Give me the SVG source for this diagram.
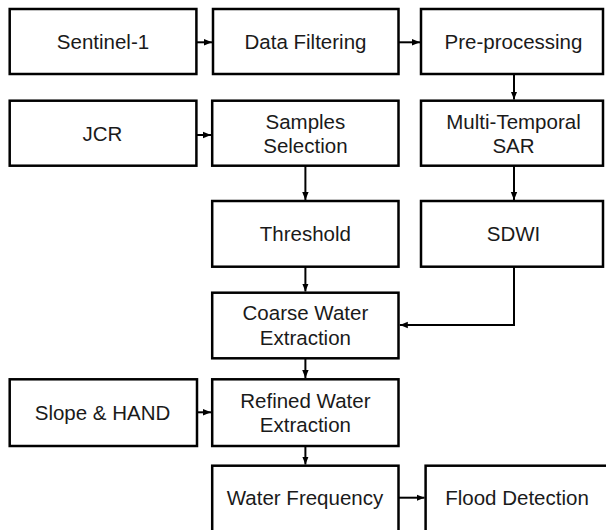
<svg xmlns="http://www.w3.org/2000/svg" width="606" height="530" viewBox="0 0 606 530">
<style>
.box{fill:#fff;stroke:#000;stroke-width:2.5}
.t{font-family:"Liberation Sans",Arial,sans-serif;font-size:20.5px;fill:#1a1a1a;text-anchor:middle}
.c{fill:none;stroke:#000;stroke-width:2}
</style>
<defs>
<marker id="ah" markerUnits="userSpaceOnUse" markerWidth="8" markerHeight="8" viewBox="0 0 8 8" refX="8" refY="4" orient="auto">
<path d="M0,0.8 L8,4 L0,7.2 Z" fill="#000"/>
</marker>
</defs>
<rect width="606" height="530" fill="#fff"/>
<g id="connectors">
<line class="c" x1="196.4" y1="42.3" x2="212" y2="42.3" marker-end="url(#ah)"/>
<line class="c" x1="398.5" y1="42.3" x2="420" y2="42.3" marker-end="url(#ah)"/>
<line class="c" x1="514" y1="74" x2="514" y2="99.5" marker-end="url(#ah)"/>
<line class="c" x1="196.4" y1="135" x2="211" y2="135" marker-end="url(#ah)"/>
<line class="c" x1="305.4" y1="165.7" x2="305.4" y2="200" marker-end="url(#ah)"/>
<line class="c" x1="514" y1="165.7" x2="514" y2="200" marker-end="url(#ah)"/>
<line class="c" x1="305.4" y1="266.7" x2="305.4" y2="291.5" marker-end="url(#ah)"/>
<polyline class="c" points="514,266.7 514,325 399.8,325" marker-end="url(#ah)"/>
<line class="c" x1="305.4" y1="358.3" x2="305.4" y2="378" marker-end="url(#ah)"/>
<line class="c" x1="197" y1="412.3" x2="211" y2="412.3" marker-end="url(#ah)"/>
<line class="c" x1="305.4" y1="446" x2="305.4" y2="464.5" marker-end="url(#ah)"/>
<line class="c" x1="398.5" y1="497.7" x2="424.5" y2="497.7" marker-end="url(#ah)"/>
</g>
<g id="sentinel1"><rect class="box" x="9.7" y="9" width="186.7" height="65"/><text class="t" x="103" y="49">Sentinel-1</text></g>
<g id="dataFiltering"><rect class="box" x="213" y="9" width="185.5" height="65"/><text class="t" x="305.5" y="49">Data Filtering</text></g>
<g id="preprocessing"><rect class="box" x="421" y="9" width="182" height="65"/><text class="t" x="513.5" y="49">Pre-processing</text></g>
<g id="jcr"><rect class="box" x="9.7" y="100.7" width="186.7" height="65"/><text class="t" x="102.5" y="140.5">JCR</text></g>
<g id="samplesSelection"><rect class="box" x="212.2" y="100.7" width="186.3" height="65"/><text class="t" x="305.4" y="128.7">Samples</text><text class="t" x="305.4" y="153.2">Selection</text></g>
<g id="multiTemporalSAR"><rect class="box" x="421" y="100.7" width="182" height="65"/><text class="t" x="513.5" y="128.7">Multi-Temporal</text><text class="t" x="513.5" y="153.2">SAR</text></g>
<g id="threshold"><rect class="box" x="212.2" y="201" width="186.3" height="65.7"/><text class="t" x="305.4" y="241">Threshold</text></g>
<g id="sdwi"><rect class="box" x="421" y="201" width="182" height="65.7"/><text class="t" x="513.5" y="241">SDWI</text></g>
<g id="coarseWater"><rect class="box" x="212.2" y="292.7" width="186.3" height="65.6"/><text class="t" x="305.4" y="320.3">Coarse Water</text><text class="t" x="305.4" y="344.8">Extraction</text></g>
<g id="slopeHand"><rect class="box" x="9.7" y="379.3" width="187.3" height="66.7"/><text class="t" x="102.5" y="419.5">Slope &amp; HAND</text></g>
<g id="refinedWater"><rect class="box" x="212.2" y="379.3" width="186.3" height="66.7"/><text class="t" x="305.4" y="407.6">Refined Water</text><text class="t" x="305.4" y="432.1">Extraction</text></g>
<g id="waterFrequency"><rect class="box" x="212.2" y="465.7" width="186.3" height="80"/><text class="t" x="305" y="505">Water Frequency</text></g>
<g id="floodDetection"><rect class="box" x="425.6" y="465.7" width="200" height="80"/><text class="t" x="517" y="505">Flood Detection</text></g>
</svg>
